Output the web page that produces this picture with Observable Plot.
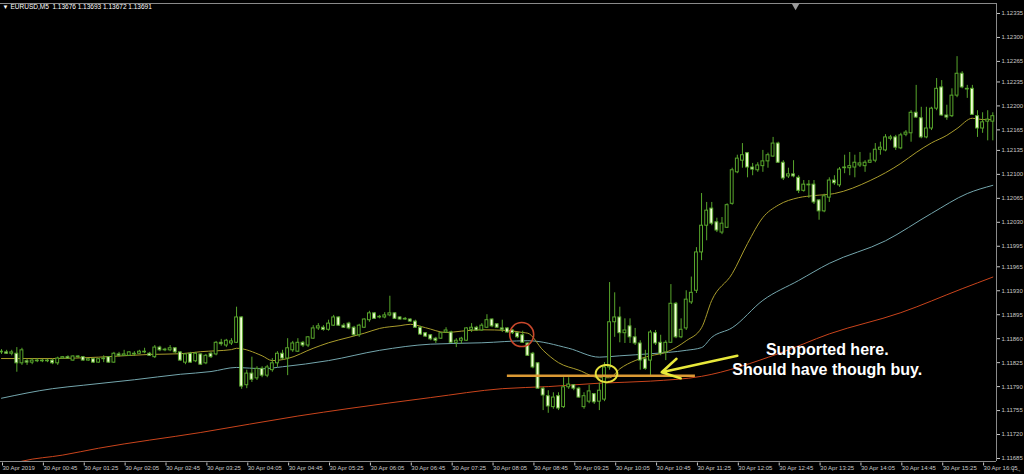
<!DOCTYPE html>
<html><head><meta charset="utf-8">
<script src="https://cdn.jsdelivr.net/npm/d3@7"></script>
<script src="https://cdn.jsdelivr.net/npm/@observablehq/plot@0.6"></script>
<style>html,body{margin:0;padding:0;background:#000;overflow:hidden}#chart svg{display:block}</style>
</head><body><div id="chart"></div>
<script>
// EURUSD M5, 30 Apr 2019, bar index 0 = 00:05
const open = [1.11840,1.11840,1.11838,1.11838,1.11824,1.11827,1.11825,1.11828,1.11827,1.11828,1.11828,1.11824,1.11831,1.11833,1.11828,1.11834,1.11833,1.11828,1.11830,1.11825,1.11830,1.11833,1.11825,1.11837,1.11835,1.11835,1.11838,1.11838,1.11840,1.11838,1.11833,1.11847,1.11843,1.11843,1.11846,1.11840,1.11825,1.11838,1.11827,1.11837,1.11824,1.11838,1.11837,1.11854,1.11850,1.11853,1.11854,1.11891,1.11792,1.11809,1.11802,1.11816,1.11806,1.11814,1.11824,1.11838,1.11831,1.11843,1.11841,1.11854,1.11850,1.11860,1.11875,1.11876,1.11873,1.11879,1.11891,1.11879,1.11882,1.11876,1.11865,1.11876,1.11887,1.11897,1.11891,1.11891,1.11894,1.11897,1.11891,1.11889,1.11888,1.11885,1.11876,1.11868,1.11865,1.11860,1.11860,1.11869,1.11869,1.11854,1.11857,1.11857,1.11873,1.11876,1.11872,1.11876,1.11888,1.11881,1.11875,1.11875,1.11872,1.11868,1.11865,1.11853,1.11838,1.11824,1.11787,1.11776,1.11760,1.11776,1.11760,1.11789,1.11792,1.11787,1.11760,1.11768,1.11779,1.11768,1.11771,1.11818,1.11884,1.11891,1.11868,1.11878,1.11862,1.11853,1.11830,1.11828,1.11868,1.11854,1.11840,1.11854,1.11911,1.11862,1.11875,1.11913,1.11930,1.11986,1.12025,1.12050,1.12030,1.12015,1.12022,1.12057,1.12103,1.12120,1.12131,1.12110,1.12106,1.12112,1.12119,1.12126,1.12145,1.12117,1.12097,1.12100,1.12095,1.12076,1.12085,1.12085,1.12062,1.12046,1.12066,1.12091,1.12084,1.12109,1.12109,1.12110,1.12113,1.12112,1.12117,1.12120,1.12136,1.12135,1.12152,1.12154,1.12138,1.12158,1.12160,1.12190,1.12182,1.12154,1.12167,1.12196,1.12227,1.12186,1.12185,1.12215,1.12247,1.12225,1.12225,1.12185,1.12167,1.12177,1.12177];
const high = [1.11844,1.11843,1.11843,1.11847,1.11846,1.11830,1.11831,1.11831,1.11830,1.11830,1.11830,1.11833,1.11834,1.11835,1.11835,1.11835,1.11834,1.11831,1.11831,1.11831,1.11835,1.11834,1.11840,1.11840,1.11843,1.11841,1.11841,1.11843,1.11846,1.11840,1.11850,1.11849,1.11846,1.11850,1.11847,1.11841,1.11838,1.11840,1.11840,1.11838,1.11837,1.11840,1.11856,1.11859,1.11859,1.11860,1.11906,1.11892,1.11814,1.11833,1.11819,1.11819,1.11821,1.11831,1.11841,1.11843,1.11860,1.11856,1.11860,1.11856,1.11863,1.11879,1.11882,1.11879,1.11887,1.11894,1.11892,1.11882,1.11884,1.11878,1.11881,1.11889,1.11900,1.11898,1.11894,1.11898,1.11922,1.11898,1.11892,1.11891,1.11889,1.11887,1.11878,1.11869,1.11866,1.11862,1.11869,1.11876,1.11871,1.11860,1.11862,1.11876,1.11882,1.11878,1.11882,1.11895,1.11889,1.11882,1.11887,1.11876,1.11873,1.11869,1.11871,1.11854,1.11840,1.11825,1.11789,1.11784,1.11781,1.11781,1.11803,1.11803,1.11793,1.11789,1.11781,1.11792,1.11780,1.11795,1.11825,1.11942,1.11927,1.11906,1.11889,1.11889,1.11875,1.11857,1.11843,1.11872,1.11872,1.11865,1.11857,1.11939,1.11913,1.11889,1.11930,1.11950,1.11993,1.12072,1.12059,1.12059,1.12036,1.12037,1.12057,1.12109,1.12128,1.12145,1.12132,1.12116,1.12117,1.12135,1.12131,1.12154,1.12147,1.12120,1.12109,1.12120,1.12098,1.12091,1.12091,1.12091,1.12063,1.12071,1.12095,1.12098,1.12110,1.12128,1.12132,1.12128,1.12132,1.12120,1.12131,1.12145,1.12147,1.12158,1.12157,1.12157,1.12160,1.12164,1.12193,1.12230,1.12198,1.12198,1.12198,1.12240,1.12237,1.12201,1.12225,1.12272,1.12250,1.12230,1.12230,1.12193,1.12190,1.12193,1.12190];
const low = [1.11837,1.11837,1.11835,1.11811,1.11821,1.11821,1.11822,1.11825,1.11825,1.11825,1.11822,1.11821,1.11830,1.11830,1.11827,1.11831,1.11827,1.11827,1.11824,1.11824,1.11825,1.11824,1.11824,1.11833,1.11834,1.11834,1.11834,1.11837,1.11838,1.11834,1.11831,1.11841,1.11841,1.11841,1.11838,1.11827,1.11822,1.11824,1.11825,1.11821,1.11822,1.11831,1.11835,1.11849,1.11847,1.11850,1.11853,1.11786,1.11787,1.11796,1.11799,1.11803,1.11803,1.11811,1.11818,1.11828,1.11806,1.11840,1.11840,1.11847,1.11847,1.11859,1.11872,1.11871,1.11871,1.11878,1.11878,1.11875,1.11873,1.11863,1.11862,1.11875,1.11884,1.11888,1.11889,1.11889,1.11892,1.11888,1.11887,1.11887,1.11884,1.11875,1.11865,1.11862,1.11857,1.11853,1.11859,1.11868,1.11853,1.11847,1.11852,1.11856,1.11869,1.11871,1.11871,1.11875,1.11876,1.11875,1.11869,1.11868,1.11866,1.11860,1.11853,1.11834,1.11816,1.11786,1.11755,1.11751,1.11757,1.11755,1.11758,1.11786,1.11784,1.11773,1.11757,1.11765,1.11764,1.11755,1.11768,1.11814,1.11862,1.11854,1.11853,1.11853,1.11850,1.11814,1.11814,1.11806,1.11850,1.11835,1.11828,1.11853,1.11860,1.11860,1.11872,1.11910,1.11926,1.11974,1.12003,1.12025,1.12015,1.12012,1.12021,1.12055,1.12101,1.12109,1.12095,1.12098,1.12103,1.12103,1.12109,1.12125,1.12116,1.12091,1.12094,1.12095,1.12072,1.12074,1.12065,1.12056,1.12033,1.12044,1.12059,1.12084,1.12081,1.12101,1.12098,1.12095,1.12110,1.12103,1.12116,1.12117,1.12128,1.12133,1.12149,1.12135,1.12136,1.12155,1.12147,1.12182,1.12152,1.12152,1.12164,1.12193,1.12185,1.12179,1.12183,1.12212,1.12225,1.12211,1.12186,1.12154,1.12160,1.12149,1.12149];
const close = [1.11841,1.11838,1.11840,1.11824,1.11843,1.11825,1.11828,1.11827,1.11828,1.11827,1.11824,1.11831,1.11833,1.11831,1.11834,1.11833,1.11828,1.11830,1.11825,1.11830,1.11831,1.11825,1.11838,1.11835,1.11837,1.11840,1.11837,1.11841,1.11841,1.11835,1.11847,1.11843,1.11844,1.11846,1.11840,1.11828,1.11837,1.11825,1.11838,1.11822,1.11835,1.11833,1.11854,1.11852,1.11857,1.11856,1.11891,1.11790,1.11809,1.11800,1.11816,1.11806,1.11818,1.11824,1.11838,1.11831,1.11846,1.11853,1.11854,1.11850,1.11862,1.11875,1.11878,1.11873,1.11882,1.11891,1.11879,1.11876,1.11875,1.11865,1.11879,1.11888,1.11897,1.11889,1.11892,1.11894,1.11897,1.11889,1.11888,1.11888,1.11885,1.11876,1.11866,1.11863,1.11859,1.11857,1.11868,1.11872,1.11854,1.11857,1.11860,1.11875,1.11876,1.11872,1.11879,1.11887,1.11878,1.11876,1.11873,1.11869,1.11868,1.11862,1.11854,1.11835,1.11818,1.11787,1.11777,1.11761,1.11774,1.11758,1.11789,1.11793,1.11787,1.11774,1.11776,1.11783,1.11767,1.11784,1.11818,1.11884,1.11891,1.11868,1.11872,1.11862,1.11853,1.11828,1.11816,1.11869,1.11853,1.11838,1.11854,1.11911,1.11862,1.11873,1.11917,1.11927,1.11986,1.12025,1.12047,1.12028,1.12018,1.12028,1.12055,1.12106,1.12123,1.12128,1.12110,1.12107,1.12113,1.12119,1.12128,1.12145,1.12117,1.12094,1.12100,1.12097,1.12076,1.12085,1.12084,1.12059,1.12046,1.12068,1.12091,1.12087,1.12107,1.12110,1.12112,1.12117,1.12116,1.12117,1.12120,1.12136,1.12139,1.12154,1.12154,1.12139,1.12157,1.12161,1.12190,1.12183,1.12154,1.12167,1.12196,1.12225,1.12186,1.12183,1.12215,1.12247,1.12227,1.12224,1.12187,1.12167,1.12176,1.12180,1.12185];

// moving averages (bar index, price)
const maFastIdx = [0,10,19,29,35,39,45,46,51,53,56,61,64,68,71,74,78,80,83,87,90,94,99,102,103,106,109,113,117,119,121,124,127,130,134,137,139,143,146,149,152,156,159,163,170,176,179,182,185,187,190,192,194];
const maFast = [1.11831,1.11831,1.11833,1.11837,1.11838,1.11841,1.11844,1.11846,1.11835,1.11828,1.11831,1.11846,1.11854,1.11862,1.11868,1.11875,1.11879,1.11881,1.11876,1.11869,1.11871,1.11873,1.11872,1.11869,1.11868,1.11843,1.11825,1.11814,1.11803,1.11803,1.11816,1.11828,1.11835,1.11840,1.11857,1.11876,1.11916,1.11955,1.11999,1.12037,1.12055,1.12066,1.12069,1.12072,1.12091,1.12116,1.12132,1.12146,1.12157,1.12167,1.12182,1.12180,1.12180];
const maMidIdx = [0,10,16,26,35,41,46,51,55,64,74,84,94,103,111,117,121,127,134,137,139,143,149,156,162,173,182,189,194];
const maMid = [1.11773,1.11787,1.11792,1.11800,1.11808,1.11812,1.11818,1.11816,1.11819,1.11828,1.11843,1.11852,1.11854,1.11857,1.11846,1.11833,1.11835,1.11838,1.11843,1.11847,1.11862,1.11876,1.11916,1.11945,1.11970,1.12003,1.12043,1.12072,1.12084];
const maSlowIdx = [0,4,12,19,39,58,68,84,98,107,117,127,137,152,162,176,188,194];
const maSlow = [1.11672,1.11681,1.11690,1.11700,1.11723,1.11747,1.11758,1.11774,1.11787,1.11790,1.11795,1.11798,1.11805,1.11838,1.11867,1.11898,1.11933,1.11950];

// axes
const xTickIdx = [0,8,16,24,32,40,48,56,64,72,80,88,96,104,112,120,128,136,144,152,160,168,176,184,192];
const xTickLabels = ["30 Apr 2019","30 Apr 00:45","30 Apr 01:25","30 Apr 02:05","30 Apr 02:45","30 Apr 03:25","30 Apr 04:05","30 Apr 04:45","30 Apr 05:25","30 Apr 06:05","30 Apr 06:45","30 Apr 07:25","30 Apr 08:05","30 Apr 08:45","30 Apr 09:25","30 Apr 10:05","30 Apr 10:45","30 Apr 11:25","30 Apr 12:05","30 Apr 12:45","30 Apr 13:25","30 Apr 14:05","30 Apr 14:45","30 Apr 15:25","30 Apr 16:05"];
const yTicks = [1.12335,1.12300,1.12265,1.12235,1.12200,1.12165,1.12135,1.12100,1.12065,1.12030,1.11995,1.11965,1.11930,1.11895,1.11860,1.11825,1.11790,1.11755,1.11720,1.11685];
const header = "EURUSD,M5  1.13676 1.13693 1.13672 1.13691";

// annotations (bar index, price)
const noteLines = ["Supported here.", "Should have though buy."];
const noteIdx = [161.6, 161.6];
const notePrice = [1.11843, 1.11815];
const arrowFrom = [144.0, 1.11835];
const arrowTo = [129.2, 1.11811];
const supportFrom = 99.0, supportTo = 135.8, supportPrice = 1.11806;
const redCircle = [101.8, 1.11866];
const yellowRing = [118.4, 1.11809];
const shiftMark = [155.4];

const xDomain = [-0.196, 194.72];
const yDomain = [1.116806, 1.123496];

const candles = open.map((o, i) => ({i, open: o, high: high[i], low: low[i], close: close[i]}));
const bull = candles.filter(d => d.close >= d.open);
const bear = candles.filter(d => d.close < d.open);
const fast = maFastIdx.map((i, k) => ({i, v: maFast[k]}));
const mid = maMidIdx.map((i, k) => ({i, v: maMid[k]}));
const slow = maSlowIdx.map((i, k) => ({i, v: maSlow[k]}));
const notes = noteLines.map((t, k) => ({t, i: noteIdx[k], p: notePrice[k]}));

const GREEN = "#58a62c", PALE = "#f2ffd6", HALF = 0.28;
const SMALL = "'Liberation Sans', Arial, sans-serif";
const ellipse = {draw(ctx, size) {
  const r = Math.sqrt(size / Math.PI), rx = r * 1.2, ry = r * 0.95;
  for (let k = 0; k <= 48; k++) {
    const a = k / 48 * 2 * Math.PI, px = rx * Math.cos(a), py = ry * Math.sin(a);
    if (k === 0) ctx.moveTo(px, py); else ctx.lineTo(px, py);
  }
  ctx.closePath();
}};

const chart = Plot.plot({
  width: 1024, height: 474,
  marginLeft: 0, marginRight: 28, marginTop: 3, marginBottom: 13,
  style: {background: "#000", color: "#c8c8c8", fontFamily: SMALL},
  x: {domain: xDomain, axis: null},
  y: {domain: yDomain, axis: null},
  marks: [
    Plot.ruleY([yDomain[0], yDomain[1]], {stroke: "#8a8a8a"}),
    Plot.ruleX([xDomain[1]], {stroke: "#8a8a8a"}),
    Plot.axisY({anchor: "right", ticks: yTicks, tickFormat: d3.format(".5f"), tickSize: 3, tickPadding: 2, fontSize: 6, fontFamily: SMALL, color: "#c8c8c8"}),
    Plot.axisX({anchor: "bottom", ticks: xTickIdx, tickFormat: d => xTickLabels[xTickIdx.indexOf(d)], tickSize: 3, tickPadding: 0, textAnchor: "start", dx: 1, dy: 1.5, fontSize: 6, fontFamily: SMALL, color: "#c8c8c8"}),
    Plot.line(slow, {x: "i", y: "v", stroke: "#c9441c", strokeWidth: 1, curve: "monotone-x", clip: true}),
    Plot.line(mid, {x: "i", y: "v", stroke: "#74a6ad", strokeWidth: 1, curve: "monotone-x", clip: true}),
    Plot.line(fast, {x: "i", y: "v", stroke: "#a99c2c", strokeWidth: 1, curve: "monotone-x", clip: true}),
    Plot.ruleX(candles, {x: "i", y1: "low", y2: "high", stroke: GREEN, strokeWidth: 1}),
    Plot.rect(bull, {x1: d => d.i - HALF, x2: d => d.i + HALF, y1: "open", y2: "close", fill: "#000", stroke: GREEN, strokeWidth: 1}),
    Plot.rect(bear, {x1: d => d.i - HALF, x2: d => d.i + HALF, y1: "open", y2: "close", fill: PALE, stroke: GREEN, strokeWidth: 1}),
    Plot.ruleY([supportPrice], {x1: supportFrom, x2: supportTo, stroke: "#dc9a34", strokeWidth: 2.5}),
    Plot.dot([redCircle], {x: d => d[0], y: d => d[1], r: 12, stroke: "#c9482c", strokeWidth: 1.6, fill: "none"}),
    Plot.dot([yellowRing], {x: d => d[0], y: d => d[1], r: 9, symbol: ellipse, stroke: "#e4e03c", strokeWidth: 2, fill: "none"}),
    Plot.arrow([[arrowFrom, arrowTo]], {x1: d => d[0][0], y1: d => d[0][1], x2: d => d[1][0], y2: d => d[1][1], stroke: "#e8e83a", strokeWidth: 2.5, headLength: 12}),
    Plot.text(notes, {x: "i", y: "p", text: "t", fill: "#fff", fontSize: 16, fontWeight: "bold", fontFamily: "'Liberation Sans', Arial, sans-serif", textAnchor: "middle"}),
    Plot.text([header], {frameAnchor: "top-left", text: d => d, dx: 10, dy: 1, fontSize: 6.5, fontFamily: SMALL, fill: "#fff", textAnchor: "start"}),
    Plot.text(["▼"], {frameAnchor: "top-left", text: d => d, dx: 2, dy: 1, fontSize: 6, fill: "#fff", textAnchor: "start"}),
    Plot.dot(shiftMark, {x: d => d, y: yDomain[1], symbol: "triangle", rotate: 180, r: 3, fill: "#9a9a9a", dy: 2})
  ]
});
document.getElementById("chart").append(chart);
</script>
</body></html>
